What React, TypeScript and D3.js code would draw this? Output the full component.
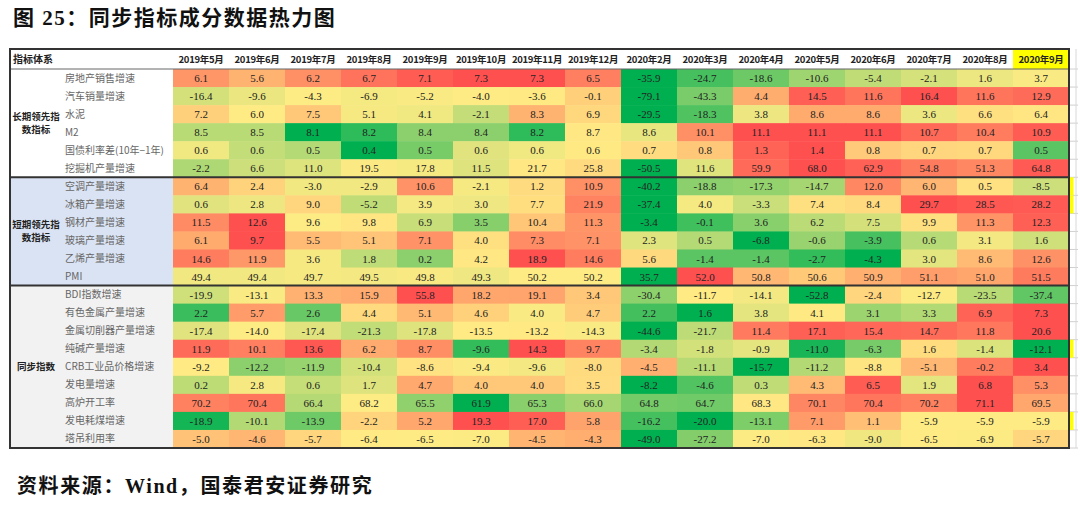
import * as d3 from "d3";

// column headers
const months = [
  "2019年5月", "2019年6月", "2019年7月", "2019年8月", "2019年9月", "2019年10月", "2019年11月", "2019年12月",
  "2020年2月", "2020年3月", "2020年4月", "2020年5月", "2020年6月", "2020年7月", "2020年8月", "2020年9月",
];

// 长期领先指数指标
const longLabels = ["房地产销售增速", "汽车销量增速", "水泥", "M2", "国债利率差(10年−1年)", "挖掘机产量增速"];
const longValues = [
  [6.1, 5.6, 6.2, 6.7, 7.1, 7.3, 7.3, 6.5, -35.9, -24.7, -18.6, -10.6, -5.4, -2.1, 1.6, 3.7],
  [-16.4, -9.6, -4.3, -6.9, -5.2, -4.0, -3.6, -0.1, -79.1, -43.3, 4.4, 14.5, 11.6, 16.4, 11.6, 12.9],
  [7.2, 6.0, 7.5, 5.1, 4.1, -2.1, 8.3, 6.9, -29.5, -18.3, 3.8, 8.6, 8.6, 3.6, 6.6, 6.4],
  [8.5, 8.5, 8.1, 8.2, 8.4, 8.4, 8.2, 8.7, 8.6, 10.1, 11.1, 11.1, 11.1, 10.7, 10.4, 10.9],
  [0.58, 0.55, 0.54, 0.42, 0.5, 0.57, 0.58, 0.6, 0.67, 0.78, 1.3, 1.4, 0.76, 0.7, 0.69, 0.48],
  [-2.2, 6.6, 11.0, 19.5, 17.8, 11.5, 21.7, 25.8, -50.5, 11.6, 59.9, 68.0, 62.9, 54.8, 51.3, 64.8],
];

// 短期领先指数指标
const shortLabels = ["空调产量增速", "冰箱产量增速", "钢材产量增速", "玻璃产量增速", "乙烯产量增速", "PMI"];
const shortValues = [
  [6.4, 2.4, -3.0, -2.9, 10.6, -2.1, 1.2, 10.9, -40.2, -18.8, -17.3, -14.7, 12.0, 6.0, 0.5, -8.5],
  [0.6, 2.8, 9.0, -5.2, 3.9, 3.0, 7.7, 21.9, -37.4, 4.0, -3.3, 7.4, 8.4, 29.7, 28.5, 28.2],
  [11.5, 12.6, 9.6, 9.8, 6.9, 3.5, 10.4, 11.3, -3.4, -0.1, 3.6, 6.2, 7.5, 9.9, 11.3, 12.3],
  [6.1, 9.7, 5.5, 5.1, 7.1, 4.0, 7.3, 7.1, 2.3, 0.5, -6.8, -0.6, -3.9, 0.6, 3.1, 1.6],
  [14.6, 11.9, 3.6, 1.8, 0.2, 4.2, 18.9, 14.6, 5.6, -1.4, -1.4, -2.7, -4.3, 3.0, 8.6, 12.6],
  [49.4, 49.4, 49.7, 49.5, 49.8, 49.3, 50.2, 50.2, 35.7, 52.0, 50.8, 50.6, 50.9, 51.1, 51.0, 51.5],
];

// 同步指数
const syncLabels = [
  "BDI指数增速", "有色金属产量增速", "金属切削器产量增速", "纯碱产量增速", "CRB工业品价格增速",
  "发电量增速", "高炉开工率", "发电耗煤增速", "塔吊利用率",
];
const syncValues = [
  [-19.9, -13.1, 13.3, 15.9, 55.8, 18.2, 19.1, 3.4, -30.4, -11.7, -14.1, -52.8, -2.4, -12.7, -23.5, -37.4],
  [2.16, 5.7, 2.6, 4.4, 5.1, 4.6, 4.0, 4.7, 2.24, 1.6, 3.8, 4.1, 3.1, 3.3, 6.9, 7.3],
  [-17.4, -14.0, -17.4, -21.3, -17.8, -13.5, -13.2, -14.3, -44.6, -21.7, 11.4, 17.1, 15.4, 14.7, 11.8, 20.6],
  [11.9, 10.1, 13.6, 6.2, 8.7, -9.6, 14.3, 9.7, -3.4, -1.8, -0.9, -11.0, -6.3, 1.6, -1.4, -12.1],
  [-9.2, -12.2, -11.9, -10.4, -8.6, -9.4, -9.6, -8.0, -4.5, -11.1, -15.7, -11.2, -8.8, -5.1, -0.2, 3.4],
  [0.2, 2.8, 0.6, 1.7, 4.7, 4.0, 4.0, 3.5, -8.2, -4.6, 0.3, 4.3, 6.5, 1.9, 6.8, 5.3],
  [70.2, 70.4, 66.4, 68.2, 65.5, 61.9, 65.3, 66.0, 64.8, 64.7, 68.3, 70.1, 70.4, 70.2, 71.1, 69.5],
  [-18.9, -10.1, -13.9, -2.2, 5.2, 19.3, 17.0, 5.8, -16.2, -20.0, -13.1, 7.1, 1.1, -5.9, -5.9, -5.9],
  [-5.0, -4.6, -5.7, -6.4, -6.5, -7.0, -4.5, -4.3, -49.0, -27.2, -7.0, -6.3, -9.0, -6.5, -6.9, -5.7],
];

// rows whose colour scale tops out above the visible values (水泥, 空调, 塔吊)
const colorMaxOverride: Record<string, number> = {
  "水泥": 12,
  "空调产量增速": 19,
  "塔吊利用率": -1,
};

const groups = [
  { title: ["长期领先指", "数指标"], labels: longLabels, values: longValues, bg: "#FFFFFF" },
  { title: ["短期领先指", "数指标"], labels: shortLabels, values: shortValues, bg: "#DAE3F3" },
  { title: ["同步指数"], labels: syncLabels, values: syncValues, bg: "#F2F2F2" },
];

const rows = groups.flatMap((g, gi) =>
  g.labels.map((label, i) => ({ label, values: g.values[i], group: gi }))
);

const GREEN = "#00B050";
const YELLOW = "#FFEB84";
const RED = "#FF5050";

const CJK = "'Noto Sans CJK SC', sans-serif";
const SERIF = "'Liberation Serif', 'Noto Sans CJK SC', serif";

export default function App() {
  const left = 10;
  const right = 1069;
  const top = 49;
  const headerBottom = 69;
  const bottom = 448;
  const cellLeft = 173;

  const x = d3.scaleBand<string>().domain(months).range([cellLeft, right]);
  const y = d3
    .scaleBand<number>()
    .domain(d3.range(rows.length))
    .range([headerBottom, bottom]);

  const rowColor = (label: string, vals: number[]) => {
    const sorted = [...vals].sort(d3.ascending);
    const hi = colorMaxOverride[label] ?? d3.max(vals)!;
    return d3
      .scaleLinear<string>()
      .domain([d3.min(vals)!, d3.quantile(sorted, 0.5)!, hi])
      .range([GREEN, YELLOW, RED])
      .interpolate(d3.interpolateRgb);
  };

  // group boundaries
  let start = 0;
  const groupSpans = groups.map((g) => {
    const s = start;
    start += g.labels.length;
    return { ...g, y0: y(s)!, y1: y(start - 1)! + y.bandwidth() };
  });

  const yellowTabs = [6, 7, 15, 19];

  return (
    <svg
      width={1080}
      height={510}
      style={{ position: "absolute", left: 0, top: 0, background: "#fff" }}
    >
      <text x={13} y={25} fontFamily={SERIF} fontWeight={700} fontSize={21} letterSpacing={1.5} fill="#111">
        图 25：同步指标成分数据热力图
      </text>

      {/* section label backgrounds */}
      {groupSpans.map((g, gi) => (
        <rect key={gi} x={left} y={g.y0} width={cellLeft - left} height={g.y1 - g.y0} fill={g.bg} />
      ))}

      {/* heat cells */}
      {rows.map((r, ri) => {
        const c = rowColor(r.label, r.values);
        return (
          <g key={ri}>
            {r.values.map((v, ci) => (
              <g key={ci}>
                <rect
                  x={x(months[ci])}
                  y={y(ri)}
                  width={x.bandwidth() + 0.5}
                  height={y.bandwidth() + 0.5}
                  fill={c(v)}
                />
                <text
                  x={x(months[ci])! + x.bandwidth() / 2}
                  y={y(ri)! + y.bandwidth() / 2 + 4}
                  textAnchor="middle"
                  fontFamily={SERIF}
                  fontSize={11}
                  fill="#222"
                >
                  {v.toFixed(1)}
                </text>
              </g>
            ))}
            <text
              x={65}
              y={y(ri)! + y.bandwidth() / 2 + 3.5}
              fontFamily={CJK}
              fontSize={10}
              fill="#666"
            >
              {r.label}
            </text>
          </g>
        );
      })}

      {/* group titles */}
      {groupSpans.map((g, gi) => {
        const mid = (g.y0 + g.y1) / 2;
        const off = ((g.title.length - 1) * 13) / 2;
        return (
          <text key={gi} fontFamily={CJK} fontWeight={700} fontSize={9.5} fill="#222" textAnchor="middle">
            {g.title.map((t, ti) => (
              <tspan key={ti} x={36} y={mid - off + ti * 13 + 3.5}>
                {t}
              </tspan>
            ))}
          </text>
        );
      })}

      {/* header */}
      <rect x={x("2020年9月")} y={top} width={x.bandwidth()} height={headerBottom - top} fill="#FFFF00" />
      <text x={13} y={63} fontFamily={CJK} fontWeight={700} fontSize={10} fill="#222">
        指标体系
      </text>
      {months.map((m) => (
        <text
          key={m}
          x={x(m)! + x.bandwidth() / 2}
          y={63}
          textAnchor="middle"
          fontFamily={CJK}
          fontWeight={700}
          fontSize={9.5}
          letterSpacing={-0.3}
          fill="#222"
        >
          {m}
        </text>
      ))}

      {/* outside grid stubs and yellow tabs */}
      {d3.range(rows.length + 1).map((i) => {
        const yy = i < rows.length ? y(i)! : bottom;
        return <line key={i} x1={right} x2={1078} y1={yy} y2={yy} stroke="#d0d0d0" strokeWidth={1} />;
      })}
      <line x1={1076} x2={1076} y1={top} y2={bottom} stroke="#d8d8d8" strokeWidth={1} />
      {yellowTabs.map((i) => (
        <rect key={i} x={right + 1} y={y(i)} width={3.5} height={y.bandwidth()} fill="#FFFF00" />
      ))}

      {/* borders */}
      <line x1={left} x2={right} y1={headerBottom} y2={headerBottom} stroke="#666" strokeWidth={1} />
      {groupSpans.slice(1).map((g, gi) => (
        <line key={gi} x1={left} x2={right} y1={g.y0} y2={g.y0} stroke="#333" strokeWidth={2} />
      ))}
      <rect x={left} y={top} width={right - left} height={bottom - top} fill="none" stroke="#333" strokeWidth={2} />

      <text x={17} y={493} fontFamily={SERIF} fontSize={20} fontWeight={600} letterSpacing={1.6} fill="#111">
        资料来源：<tspan fontWeight={700}>Wind</tspan>，国泰君安证券研究
      </text>
    </svg>
  );
}
